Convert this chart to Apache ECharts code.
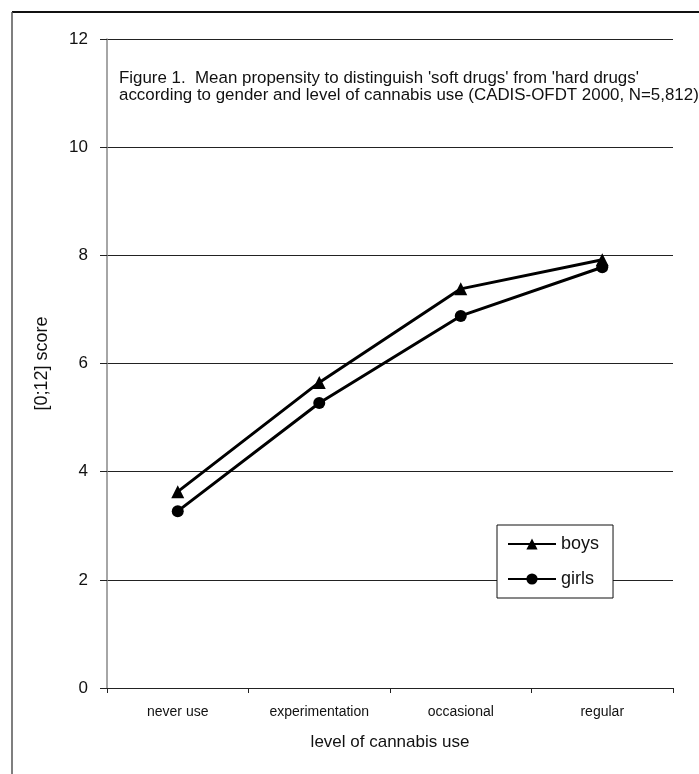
<!DOCTYPE html>
<html>
<head>
<meta charset="utf-8">
<script src="https://cdn.jsdelivr.net/npm/echarts@6/dist/echarts.min.js"></script>
<style>
html,body{margin:0;padding:0;background:#fff;}
#chart{width:699px;height:774px;}
</style>
</head>
<body>
<div id="chart"></div>
<script>
var categories = ['never use', 'experimentation', 'occasional', 'regular'];
var boys = [3.63, 5.65, 7.38, 7.92];
var girls = [3.27, 5.27, 6.88, 7.78];
var yTicks = { min: 0, max: 12, interval: 2 };
var titleLine1 = "Figure 1.  Mean propensity to distinguish 'soft drugs' from 'hard drugs'";
var titleLine2 = "according to gender and level of cannabis use (CADIS-OFDT 2000, N=5,812)";
var yName = '[0;12] score';
var xName = 'level of cannabis use';

var sans = "'Liberation Sans', Arial, sans-serif";

var chart = echarts.init(document.getElementById('chart'));
chart.setOption({
  backgroundColor: '#fff',
  animation: false,
  grid: { left: 107, right: 26, top: 39, bottom: 86 },
  xAxis: {
    type: 'category',
    data: categories,
    boundaryGap: true,
    axisLine: { lineStyle: { color: '#222', width: 1 } },
    axisTick: { show: true, length: 5, lineStyle: { color: '#222' } },
    axisLabel: { color: '#111', fontFamily: sans, fontSize: 14, margin: 17 },
    name: xName,
    nameLocation: 'middle',
    nameGap: 46,
    nameTextStyle: { color: '#111', fontFamily: sans, fontSize: 17 }
  },
  yAxis: {
    type: 'value',
    min: yTicks.min,
    max: yTicks.max,
    interval: yTicks.interval,
    axisLine: { show: true, lineStyle: { color: '#888', width: 1.5 } },
    axisTick: { show: true, length: 7, lineStyle: { color: '#222' } },
    axisLabel: { color: '#111', fontFamily: sans, fontSize: 17, margin: 19 },
    splitLine: { show: true, lineStyle: { color: '#222', width: 1 } },
    name: yName,
    nameLocation: 'middle',
    nameGap: 56,
    nameRotate: 90,
    nameTextStyle: { color: '#111', fontFamily: sans, fontSize: 18 }
  },
  legend: {
    orient: 'vertical',
    left: 497,
    top: 525,
    backgroundColor: '#fff',
    borderColor: '#111',
    borderWidth: 1,
    borderRadius: 0,
    padding: [10, 14, 10, 10],
    itemWidth: 48,
    itemHeight: 14,
    itemGap: 17,
    textStyle: { color: '#111', fontFamily: sans, fontSize: 18 },
    data: ['boys', 'girls']
  },
  graphic: [
    { type: 'line', shape: { x1: 12, y1: 12, x2: 699, y2: 12 }, style: { stroke: '#111', lineWidth: 2 }, silent: true },
    { type: 'line', shape: { x1: 12, y1: 12, x2: 12, y2: 774 }, style: { stroke: '#555', lineWidth: 1.5 }, silent: true },
    { type: 'text', left: 119, top: 70, style: { text: titleLine1, fill: '#111', font: '16.9px ' + sans }, silent: true },
    { type: 'text', left: 119, top: 87, style: { text: titleLine2, fill: '#111', font: '16.9px ' + sans }, silent: true }
  ],
  series: [
    {
      name: 'boys', type: 'line', data: boys,
      symbol: 'triangle', symbolSize: 13,
      lineStyle: { color: '#000', width: 3 },
      itemStyle: { color: '#000' }
    },
    {
      name: 'girls', type: 'line', data: girls,
      symbol: 'circle', symbolSize: 12,
      lineStyle: { color: '#000', width: 3 },
      itemStyle: { color: '#000' }
    }
  ]
});
</script>
</body>
</html>
